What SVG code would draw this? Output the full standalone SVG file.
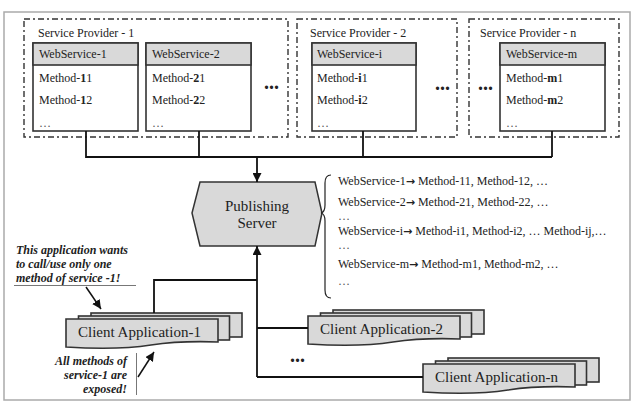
<svg xmlns="http://www.w3.org/2000/svg" width="636" height="404" viewBox="0 0 636 404">
<style>
text{font-family:"Liberation Serif","Times New Roman",serif;fill:#222}
.sp{fill:none;stroke:#333;stroke-width:1.4;stroke-dasharray:6 3 2 3}
.ws{fill:#fff;stroke:#333;stroke-width:1.6}
.wh{fill:#d9d9d9;stroke:#333;stroke-width:1.6}
.t12{font-size:12px}
.dots{font-size:20px;font-weight:bold}
.ln{fill:none;stroke:#111;stroke-width:1.8}
.an{fill:none;stroke:#111;stroke-width:1.5}
.thin{fill:none;stroke:#777;stroke-width:1}
.cl{fill:#d9d9d9;stroke:#333;stroke-width:1.6}
.ct{font-size:15px}
.note{font-size:12px;font-weight:bold;font-style:italic}
.ell{fill:#555}
.arr{font-family:"DejaVu Sans",sans-serif;font-weight:bold;font-size:11px}
</style>
<defs>
<marker id="ah" viewBox="0 0 10 10" refX="10" refY="5" markerWidth="9" markerHeight="9" markerUnits="userSpaceOnUse" orient="auto">
<path d="M0,0 L10,5 L0,10 Z" fill="#111"/>
</marker>
<g id="stack">
<rect x="25" y="-6" width="151" height="24" class="cl"/>
<rect x="12.5" y="-3" width="151" height="24" class="cl"/>
<path d="M0,0 H152 V23 C125,22 105,23 85,26 C60,30 30,30 0,28 Z" class="cl"/>
</g>
</defs>
<rect x="4" y="12" width="626" height="388" fill="#fff" stroke="#aaa" stroke-width="1.5"/>

<g id="provider-1">
<rect x="24" y="19" width="264" height="118" class="sp"/>
<text x="38" y="37" class="t12">Service Provider - 1</text>
<text x="264" y="89" class="dots">...</text>
</g>
<g id="webservice-1">
<rect x="33" y="43" width="105" height="88" class="ws"/>
<rect x="33" y="43" width="105" height="22" class="wh"/>
<text x="39" y="58" class="t12">WebService-1</text>
<text x="39" y="82" class="t12">Method-<tspan font-weight="bold">1</tspan>1</text>
<text x="39" y="104" class="t12">Method-<tspan font-weight="bold">1</tspan>2</text>
<text x="39" y="127" class="t12 ell">…</text>
</g>
<g id="webservice-2">
<rect x="146" y="43" width="105" height="88" class="ws"/>
<rect x="146" y="43" width="105" height="22" class="wh"/>
<text x="152" y="58" class="t12">WebService-2</text>
<text x="152" y="82" class="t12">Method-<tspan font-weight="bold">2</tspan>1</text>
<text x="152" y="104" class="t12">Method-<tspan font-weight="bold">2</tspan>2</text>
<text x="152" y="127" class="t12 ell">…</text>
</g>
<g id="provider-2">
<rect x="297" y="19" width="160" height="118" class="sp"/>
<text x="310" y="37" class="t12">Service Provider - 2</text>
<text x="435" y="90" class="dots">...</text>
</g>
<g id="webservice-i">
<rect x="312" y="43" width="104" height="88" class="ws"/>
<rect x="312" y="43" width="104" height="22" class="wh"/>
<text x="317" y="58" class="t12">WebService-i</text>
<text x="317" y="82" class="t12">Method-<tspan font-weight="bold">i</tspan>1</text>
<text x="317" y="104" class="t12">Method-<tspan font-weight="bold">i</tspan>2</text>
<text x="317" y="127" class="t12 ell">…</text>
</g>
<g id="provider-n">
<rect x="469" y="19" width="150" height="118" class="sp"/>
<text x="480" y="37" class="t12">Service Provider - n</text>
<text x="478" y="90" class="dots">...</text>
</g>
<g id="webservice-m">
<rect x="500" y="43" width="105" height="88" class="ws"/>
<rect x="500" y="43" width="105" height="22" class="wh"/>
<text x="506" y="58" class="t12">WebService-m</text>
<text x="506" y="82" class="t12">Method-<tspan font-weight="bold">m</tspan>1</text>
<text x="506" y="104" class="t12">Method-<tspan font-weight="bold">m</tspan>2</text>
<text x="506" y="127" class="t12 ell">…</text>
</g>

<g id="publishing-server">
<polygon points="200,182 315,182 322,213 315,246 200,246 192,213" fill="#d9d9d9" stroke="#333" stroke-width="1.5"/>
<text x="257" y="211" class="ct" text-anchor="middle">Publishing</text>
<text x="257" y="228" class="ct" text-anchor="middle">Server</text>
</g>

<g id="registry-list">
<path d="M331,175 Q325,175 325,183 V205 Q325,212 321,213 Q325,214 325,221 V290 Q325,298 331,298" fill="none" stroke="#222" stroke-width="1.2"/>
<text x="338" y="185" class="t12">WebService-1<tspan class="arr">→</tspan> Method-11, Method-12, …</text>
<text x="338" y="206" class="t12">WebService-2<tspan class="arr">→</tspan> Method-21, Method-22, …</text>
<text x="338" y="220" class="t12 ell">…</text>
<text x="338" y="235" class="t12">WebService-i<tspan class="arr">→</tspan> Method-i1, Method-i2, … Method-ij,…</text>
<text x="338" y="249" class="t12 ell">…</text>
<text x="338" y="268" class="t12">WebService-m<tspan class="arr">→</tspan> Method-m1, Method-m2, …</text>
<text x="338" y="285" class="t12 ell">…</text>
</g>

<g id="client-1">
<use href="#stack" transform="translate(66,319)"/>
<text x="78" y="337" class="ct">Client Application-1</text>
</g>
<g id="client-2">
<use href="#stack" transform="translate(308,316)"/>
<text x="320" y="334" class="ct">Client Application-2</text>
</g>
<g id="client-n">
<use href="#stack" transform="translate(423,364)"/>
<text x="435" y="382" class="ct">Client Application-n</text>
</g>
<text x="290" y="362" class="dots">...</text>

<g id="note-1">
<text x="16" y="254" class="note">This application wants</text>
<text x="16" y="268" class="note">to call/use only one</text>
<text x="16" y="282" class="note">method of service -1!</text>
<line x1="14" y1="285.5" x2="136" y2="285.5" class="thin"/>
</g>
<g id="note-2">
<text x="127" y="365" class="note" text-anchor="end">All methods of</text>
<text x="127" y="379" class="note" text-anchor="end">service-1 are</text>
<text x="127" y="393" class="note" text-anchor="end">exposed!</text>
<line x1="136.5" y1="353" x2="136.5" y2="395" class="thin"/>
</g>

<g id="connectors">
<polyline points="86,131 86,157 552,157" class="ln"/>
<line x1="199" y1="131" x2="199" y2="157" class="ln"/>
<line x1="363" y1="131" x2="363" y2="157" class="ln"/>
<line x1="552" y1="131" x2="552" y2="157" class="ln"/>
<line x1="257" y1="157" x2="257" y2="182" class="ln" marker-end="url(#ah)"/>
<line x1="257" y1="377" x2="257" y2="246" class="ln" marker-end="url(#ah)"/>
<polyline points="154,313 154,280 257,280" class="ln"/>
<polyline points="257,328 308,328" class="ln"/>
<polyline points="257,377 423,377" class="ln"/>
<line x1="86" y1="287" x2="101" y2="309" class="an" marker-end="url(#ah)"/>
<line x1="138" y1="377" x2="154" y2="352" class="an" marker-end="url(#ah)"/>
</g>
</svg>
